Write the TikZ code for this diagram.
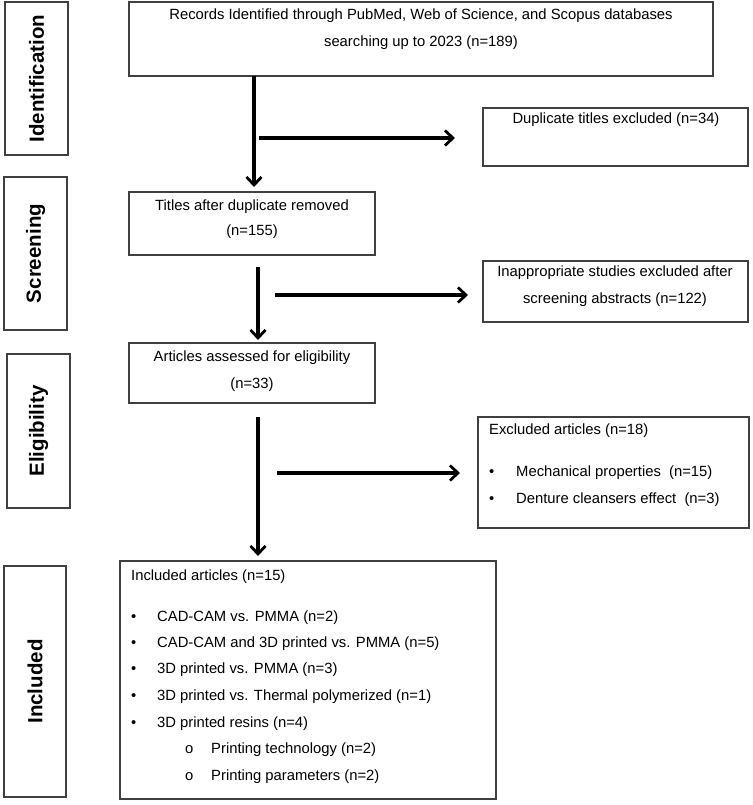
\documentclass[tikz,border=0pt]{standalone}
\usepackage{fontspec}
\setmainfont{Liberation Sans}
\usetikzlibrary{arrows.meta}
\begin{document}
\begin{tikzpicture}[x=1pt,y=-1pt,
  box/.style={draw=black!75, line width=1.2pt, rectangle, inner sep=0pt},
  flow/.style={line width=3.2pt, -{Straight Barb[length=8pt,width=15pt,line width=2.8pt]}},
  txt/.style={font=\fontsize{14.8}{17}\selectfont, inner sep=0pt},
  ltxt/.style={txt, anchor=west},
  stage/.style={font=\fontsize{20.5}{22}\selectfont\bfseries, rotate=90, inner sep=0pt}]
\useasboundingbox (0,0) rectangle (752,805);

% stage boxes
\node[box, minimum width=63pt, minimum height=153pt] (idb) at (36.5,78.5) {};
\node[box, minimum width=63pt, minimum height=153pt] (scb) at (35.5,253.5) {};
\node[box, minimum width=63pt, minimum height=154pt] (elb) at (38.5,431) {};
\node[box, minimum width=62pt, minimum height=231pt] (inb) at (35,681.5) {};
\node[stage] (idt) at (idb.center) {Identification};
\node[stage] (sct) at (scb.center) {Screening};
\node[stage] (elt) at (elb.center) {Eligibility};
\node[stage] (int) at (inb.center) {Included};

% main boxes
\node[box, minimum width=584pt, minimum height=74pt] (rec) at (421,39) {};
\node[txt] (rec1) at (421,16) {Records Identified through PubMed, Web of Science, and Scopus databases};
\node[txt] (rec2) at (421,43) {searching up to 2023 (n=189)};

\node[box, minimum width=246pt, minimum height=63pt] (tit) at (252,223.5) {};
\node[txt] (tit1) at (252,207) {Titles after duplicate removed};
\node[txt] (tit2) at (252,232) {(n=155)};

\node[box, minimum width=246pt, minimum height=60pt] (art) at (252,373) {};
\node[txt] (art1) at (252,358) {Articles assessed for eligibility};
\node[txt] (art2) at (252,385) {(n=33)};

\node[box, minimum width=376pt, minimum height=238pt] (inc) at (308,680) {};
\node[ltxt] (inc0) at (131,577) {Included articles (n=15)};
\node[ltxt] (incb1) at (131,618) {•};
\node[ltxt] (inc1) at (157,618) {CAD-CAM vs. PMMA (n=2)};
\node[ltxt] (incb2) at (131,644) {•};
\node[ltxt] (inc2) at (157,644) {CAD-CAM and 3D printed vs. PMMA (n=5)};
\node[ltxt] (incb3) at (131,670) {•};
\node[ltxt] (inc3) at (157,670) {3D printed vs. PMMA (n=3)};
\node[ltxt] (incb4) at (131,697) {•};
\node[ltxt] (inc4) at (157,697) {3D printed vs. Thermal polymerized (n=1)};
\node[ltxt] (incb5) at (131,724) {•};
\node[ltxt] (inc5) at (157,724) {3D printed resins (n=4)};
\node[ltxt] (incs1b) at (185,750) {o};
\node[ltxt] (incs1) at (211,750) {Printing technology (n=2)};
\node[ltxt] (incs2b) at (185,777) {o};
\node[ltxt] (incs2) at (211,777) {Printing parameters (n=2)};

% side boxes
\node[box, minimum width=265pt, minimum height=58pt] (dup) at (615.5,137) {};
\node[txt] (dup1) at (616,120) {Duplicate titles excluded (n=34)};

\node[box, minimum width=265pt, minimum height=61pt] (ina) at (615.5,291.5) {};
\node[txt] (ina1) at (615,273) {Inappropriate studies excluded after};
\node[txt] (ina2) at (615,300) {screening abstracts (n=122)};

\node[box, minimum width=271pt, minimum height=111pt] (exc) at (613.5,472.5) {};
\node[ltxt] (exc0) at (489,431) {Excluded articles (n=18)};
\node[ltxt] (excb1) at (489,473) {•};
\node[ltxt] (exc1) at (516,473) {Mechanical properties\ \ (n=15)};
\node[ltxt] (excb2) at (489,500) {•};
\node[ltxt] (exc2) at (516,500) {Denture cleansers effect\ \ (n=3)};

% connector coordinates
\coordinate (v1s) at (254,76);
\coordinate (v1e) at (254,187);
\coordinate (h1s) at (259,138);
\coordinate (h1e) at (455,138);
\coordinate (v2s) at (258,267);
\coordinate (v2e) at (258,340);
\coordinate (h2s) at (275,295);
\coordinate (h2e) at (468,295);
\coordinate (v3s) at (258,417);
\coordinate (v3e) at (258,556);
\coordinate (h3s) at (277,473);
\coordinate (h3e) at (460,473);

\draw[flow] (v1s) -- (v1e);
\draw[flow] (h1s) -- (h1e);
\draw[flow] (v2s) -- (v2e);
\draw[flow] (h2s) -- (h2e);
\draw[flow] (v3s) -- (v3e);
\draw[flow] (h3s) -- (h3e);
\end{tikzpicture}
\end{document}
